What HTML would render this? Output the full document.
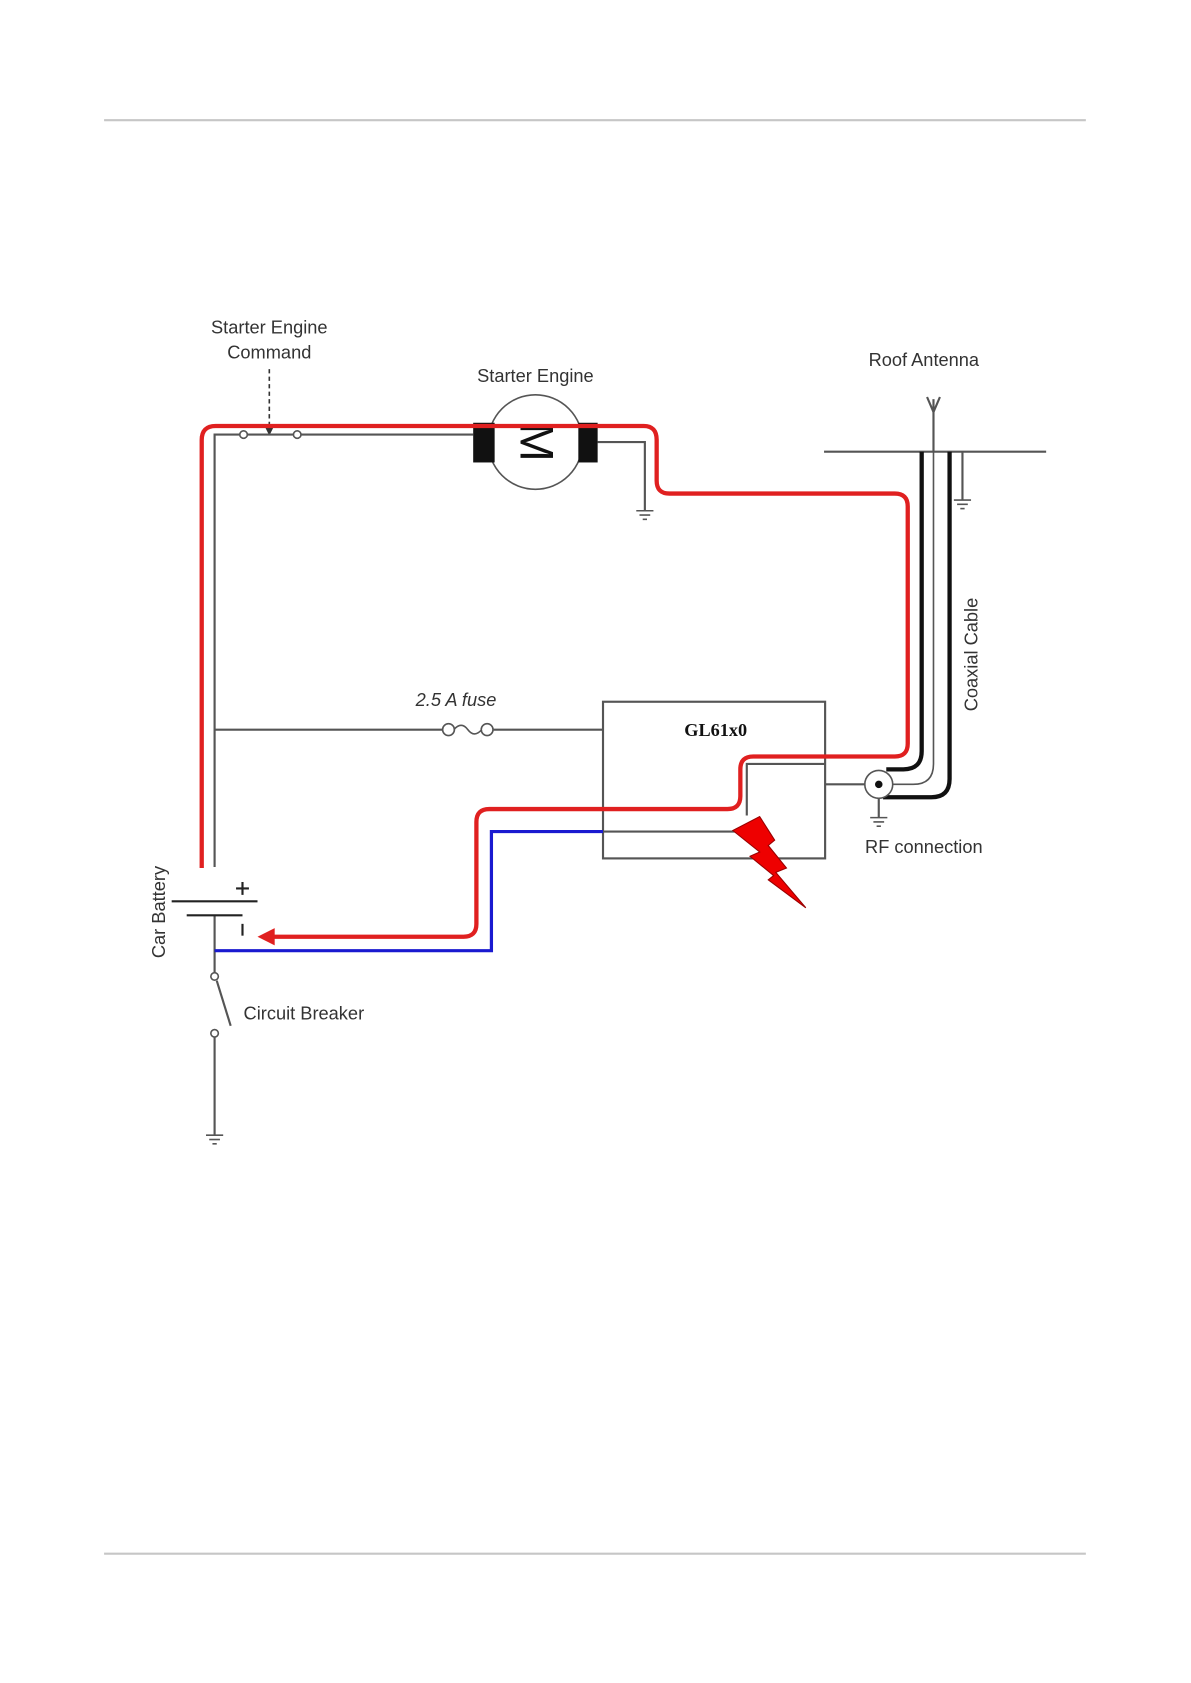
<!DOCTYPE html>
<html><head><meta charset="utf-8"><style>
html,body{margin:0;padding:0;background:#fff}
svg{display:block}
text{font-family:"Liberation Sans",sans-serif;fill:#333}
</style></head><body>
<svg width="1191" height="1683" viewBox="0 0 1110 1568.5" preserveAspectRatio="none" xmlns="http://www.w3.org/2000/svg">
<line x1="97" y1="112" x2="1012" y2="112" stroke="#c6c6c6" stroke-width="2"/>
<line x1="97" y1="1448" x2="1012" y2="1448" stroke="#c6c6c6" stroke-width="2"/>

<text x="251" y="311" font-size="17" text-anchor="middle">Starter Engine</text>
<text x="251" y="334" font-size="17" text-anchor="middle">Command</text>
<line x1="251" y1="344" x2="251" y2="398" stroke="#333" stroke-width="1.5" stroke-dasharray="4,3"/>
<polygon points="247,398 255,398 251,406" fill="#333"/>
<text x="499" y="356" font-size="17" text-anchor="middle">Starter Engine</text>
<text x="861" y="341" font-size="17" text-anchor="middle">Roof Antenna</text>
<text x="861" y="795" font-size="17" text-anchor="middle">RF connection</text>
<text x="227" y="950" font-size="17">Circuit Breaker</text>
<text x="425" y="658" font-size="17" text-anchor="middle" font-style="italic">2.5 A fuse</text>
<text transform="translate(911,610) rotate(-90)" font-size="17" text-anchor="middle">Coaxial Cable</text>
<text transform="translate(154,850) rotate(-90)" font-size="17" text-anchor="middle">Car Battery</text>

<g stroke="#555" stroke-width="2" fill="none">
<polyline points="200,808 200,405 441,405"/>
<polyline points="557,412 601,412 601,476"/>
<line x1="200" y1="853" x2="200" y2="908"/>
<line x1="202" y1="914" x2="215" y2="956"/>
<line x1="200" y1="966" x2="200" y2="1058"/>
<line x1="200" y1="680" x2="412" y2="680"/>
<line x1="460" y1="680" x2="562" y2="680"/>
<rect x="562" y="654" width="207" height="146"/>
<polyline points="562,775 696,775"/>
<polyline points="696,760 696,712 769,712"/>
<line x1="769" y1="731" x2="806" y2="731"/>
<line x1="768" y1="421" x2="975" y2="421"/>
<line x1="870" y1="372" x2="870" y2="421"/>
<polyline points="864,370 870,384 876,370"/>
<line x1="897" y1="421" x2="897" y2="466"/>
<line x1="819" y1="744" x2="819" y2="762"/>
<path d="M870 421 V712 Q870 731 851 731 H832" stroke-width="1.5"/>
</g>
<g stroke="#555" stroke-width="1.5">
<line x1="593" y1="476" x2="609" y2="476"/><line x1="596" y1="480" x2="606" y2="480"/><line x1="599" y1="484" x2="603" y2="484"/>
<line x1="889" y1="466" x2="905" y2="466"/><line x1="892" y1="470" x2="902" y2="470"/><line x1="895" y1="474" x2="899" y2="474"/>
<line x1="811" y1="762" x2="827" y2="762"/><line x1="814" y1="766" x2="824" y2="766"/><line x1="817" y1="770" x2="821" y2="770"/>
<line x1="192" y1="1058" x2="208" y2="1058"/><line x1="195" y1="1062" x2="205" y2="1062"/><line x1="198" y1="1066" x2="202" y2="1066"/>
</g>
<g fill="#fff" stroke="#555" stroke-width="1.5">
<circle cx="227" cy="405" r="3.5"/><circle cx="277" cy="405" r="3.5"/>
<circle cx="200" cy="910" r="3.5"/><circle cx="200" cy="963" r="3.5"/>
<circle cx="418" cy="680" r="5.5"/><circle cx="454" cy="680" r="5.5"/>
<path d="M423 680 Q430 672 436 680 Q442 688 449 680" fill="none"/>
<circle cx="499" cy="412" r="44"/>
</g>
<rect x="441" y="394" width="20" height="37" fill="#111"/>
<rect x="539" y="394" width="18" height="37" fill="#111"/>
<text transform="translate(485,412) rotate(90)" font-size="44" text-anchor="middle" style="fill:#111">M</text>

<text x="667" y="686" font-size="17" font-weight="bold" text-anchor="middle" style="font-family:'Liberation Serif',serif;fill:#111">GL61x0</text>

<g fill="none" stroke="#111" stroke-width="4">
<path d="M859 421 V700 Q859 717 842 717 H826"/>
<path d="M885 421 V726 Q885 743 868 743 H823"/>
</g>
<circle cx="819" cy="731" r="13" fill="#fff" stroke="#555" stroke-width="1.5"/>
<circle cx="819" cy="731" r="3.5" fill="#111"/>

<path d="M188 809 V410 Q188 397 201 397 H600 Q612 397 612 410 V448 Q612 460 624 460 H834 Q846 460 846 472 V693 Q846 705 834 705 H702 Q690 705 690 717 V742 Q690 754 678 754 H456 Q444 754 444 766 V861 Q444 873 432 873 H252" fill="none" stroke="#e02020" stroke-width="4"/>
<polygon points="240,873 256,865 256,881" fill="#e02020"/>
<polyline points="200,886 458,886 458,775 562,775" fill="none" stroke="#1a1ad0" stroke-width="3"/>

<g stroke="#222" stroke-width="2">
<line x1="160" y1="840" x2="240" y2="840"/>
<line x1="174" y1="853" x2="226" y2="853"/>
<line x1="220" y1="828" x2="232" y2="828"/><line x1="226" y1="822" x2="226" y2="834"/>
<line x1="226" y1="861" x2="226" y2="872"/>
</g>
<polygon points="683,774 708,761 722,783 716,788 733,809 723,813 751,846 716,820 721,816 699,798 708,794" fill="#ee0000" stroke="#900" stroke-width="1"/>
</svg>
</body></html>
